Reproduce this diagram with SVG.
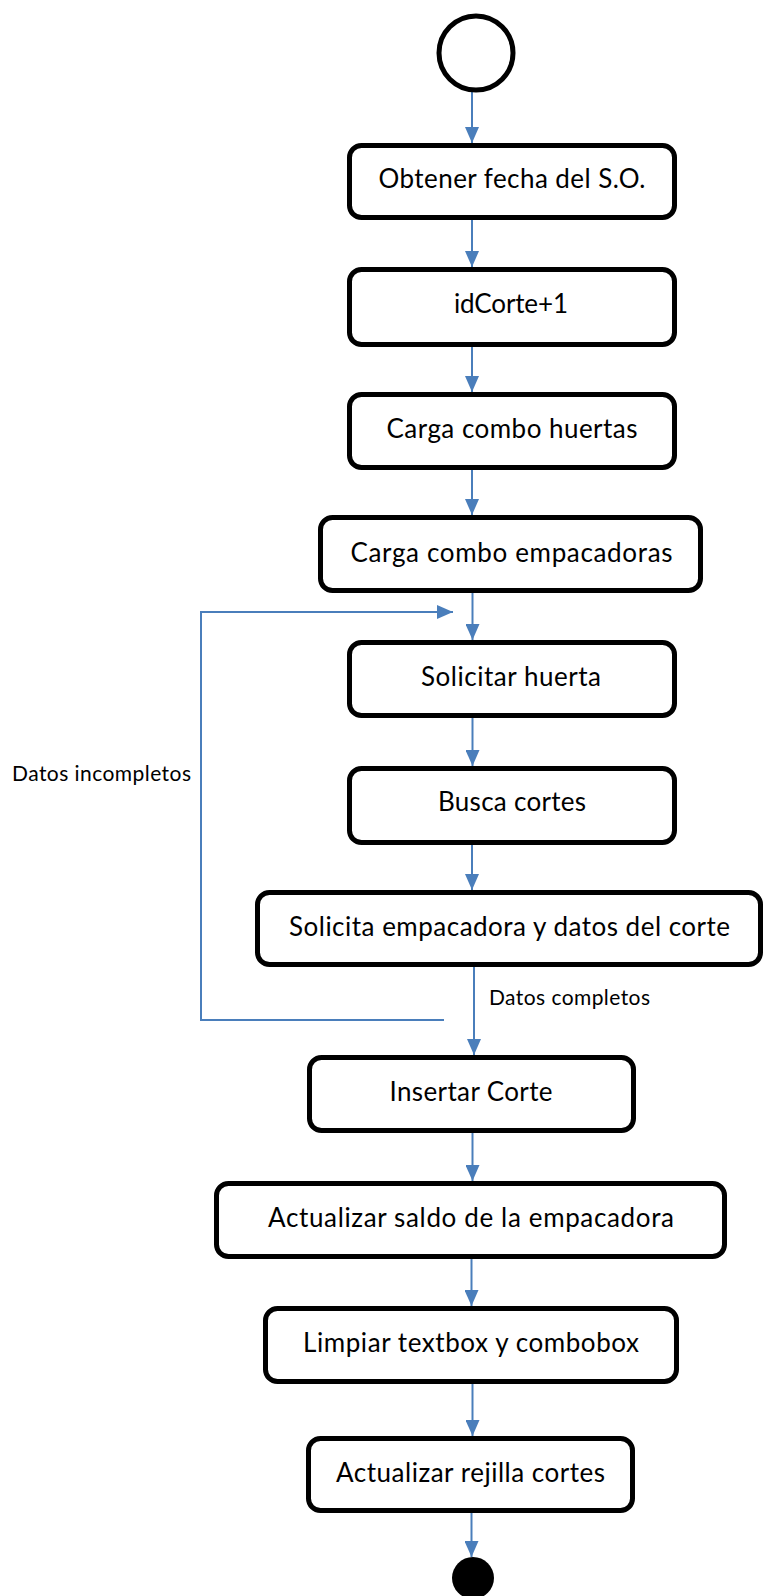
<svg xmlns="http://www.w3.org/2000/svg" width="764" height="1596" viewBox="0 0 764 1596">
<style>
.box{fill:#fff;stroke:#000;stroke-width:5}
.t{font-family:Lato,"Liberation Sans",sans-serif;font-size:26px;fill:#000;text-anchor:middle}
.lbl{font-family:Lato,"Liberation Sans",sans-serif;font-size:21px;fill:#000}
.c{fill:none;stroke:#4a7ebb;stroke-width:2}
</style>
<defs>
<marker id="ah" viewBox="0 0 10 10" refX="10" refY="5" markerWidth="7.5" markerHeight="7.5" markerUnits="userSpaceOnUse" orient="auto">
<path d="M0,0 L10,5 L0,10 Z" fill="#4a7ebb"/>
</marker>
<marker id="a" viewBox="0 0 16 14" refX="16" refY="7" markerWidth="16" markerHeight="14" markerUnits="userSpaceOnUse" orient="auto">
<path d="M0,0 L16,7 L0,14 Z" fill="#4a7ebb"/>
</marker>
</defs>
<g id="connectors">
<path class="c" d="M472,91 V143" marker-end="url(#a)"/>
<path class="c" d="M472,220 V267" marker-end="url(#a)"/>
<path class="c" d="M472,347 V392" marker-end="url(#a)"/>
<path class="c" d="M472,470 V515" marker-end="url(#a)"/>
<path class="c" d="M472.5,593 V640" marker-end="url(#a)"/>
<path class="c" d="M472.5,718 V766" marker-end="url(#a)"/>
<path class="c" d="M472,845 V890" marker-end="url(#a)"/>
<path class="c" d="M474,967 V1055" marker-end="url(#a)"/>
<path class="c" d="M472.5,1133 V1181" marker-end="url(#a)"/>
<path class="c" d="M471.5,1259 V1306" marker-end="url(#a)"/>
<path class="c" d="M472.5,1384 V1436" marker-end="url(#a)"/>
<path class="c" d="M471.5,1513 V1557" marker-end="url(#a)"/>
<path class="c" d="M444,1020 H201 V612 H453" marker-end="url(#a)"/>
<text class="lbl" x="12" y="781" textLength="179" lengthAdjust="spacing">Datos incompletos</text>
<text class="lbl" x="489" y="1005" textLength="161" lengthAdjust="spacing">Datos completos</text>
</g>
<g id="start"><circle cx="476" cy="53" r="37" fill="#fff" stroke="#000" stroke-width="5"/></g>
<g id="n1"><rect class="box" x="349.5" y="145.5" width="325" height="72" rx="12"/><text class="t" x="512" y="188" textLength="267" lengthAdjust="spacing">Obtener fecha del S.O.</text></g>
<g id="n2"><rect class="box" x="349.5" y="269.5" width="325" height="75" rx="12"/><text class="t" x="511" y="313" textLength="114" lengthAdjust="spacing">idCorte+1</text></g>
<g id="n3"><rect class="box" x="349.5" y="394.5" width="325" height="73" rx="12"/><text class="t" x="512" y="438" textLength="251" lengthAdjust="spacing">Carga combo huertas</text></g>
<g id="n4"><rect class="box" x="320.5" y="517.5" width="380" height="73" rx="12"/><text class="t" x="511.5" y="562" textLength="322" lengthAdjust="spacing">Carga combo empacadoras</text></g>
<g id="n5"><rect class="box" x="349.5" y="642.5" width="325" height="73" rx="12"/><text class="t" x="511" y="686" textLength="180" lengthAdjust="spacing">Solicitar huerta</text></g>
<g id="n6"><rect class="box" x="349.5" y="768.5" width="325" height="74" rx="12"/><text class="t" x="512" y="811" textLength="148" lengthAdjust="spacing">Busca cortes</text></g>
<g id="n7"><rect class="box" x="257.5" y="892.5" width="503" height="72" rx="12"/><text class="t" x="509.5" y="936" textLength="441" lengthAdjust="spacing">Solicita empacadora y datos del corte</text></g>
<g id="n8"><rect class="box" x="309.5" y="1057.5" width="324" height="73" rx="12"/><text class="t" x="471" y="1101" textLength="163" lengthAdjust="spacing">Insertar Corte</text></g>
<g id="n9"><rect class="box" x="216.5" y="1183.5" width="508" height="73" rx="12"/><text class="t" x="471" y="1227" textLength="406" lengthAdjust="spacing">Actualizar saldo de la empacadora</text></g>
<g id="n10"><rect class="box" x="265.5" y="1308.5" width="411" height="73" rx="12"/><text class="t" x="471" y="1352" textLength="336" lengthAdjust="spacing">Limpiar textbox y combobox</text></g>
<g id="n11"><rect class="box" x="308.5" y="1438.5" width="324" height="72" rx="12"/><text class="t" x="470.5" y="1482" textLength="269" lengthAdjust="spacing">Actualizar rejilla cortes</text></g>
<g id="end"><circle cx="473" cy="1578" r="21" fill="#000"/></g>
</svg>
